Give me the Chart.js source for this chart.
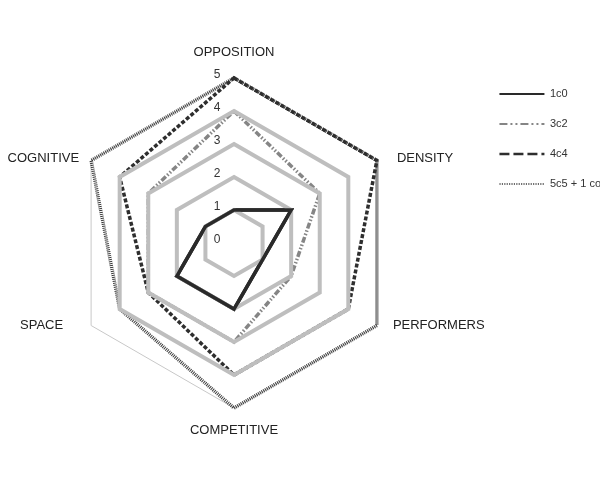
<!DOCTYPE html>
<html>
<head>
<meta charset="utf-8">
<script src="https://cdn.jsdelivr.net/npm/chart.js@4.4.1/dist/chart.umd.min.js"></script>
<style>
  html, body { margin: 0; padding: 0; background: #fff; overflow: hidden; }
  /* a little wider than the window, like the original whose legend runs off the edge */
  #wrap { width: 623px; height: 480px; position: relative; margin-left: -12px; }
</style>
</head>
<body>
<div id="wrap"><canvas id="radarChart"></canvas></div>
<script>
// Axes, clockwise from the top
const axes = ['OPPOSITION', 'DENSITY', 'PERFORMERS', 'COMPETITIVE', 'SPACE', 'COGNITIVE'];

// Series values (scale 0-5)
const s1c0 = [1, 2, 1, 2, 2, 1];
const s3c2 = [4, 3, 2, 3, 3, 3];
const s4c4 = [5, 5, 4, 4, 3, 4];
const s5c5 = [5, 5, 5, 5, 4, 5];

const seriesNames = ['1c0', '3c2', '4c4', '5c5 + 1 co'];
const tickValues = [0, 1, 2, 3, 4, 5];

Chart.defaults.font.family = '"Liberation Sans", Arial, Helvetica, sans-serif';
Chart.defaults.color = '#222';

const gridGrey = 'rgb(190,190,190)';

// gap between each vertex and its axis name (the original isn't quite even)
const labelGap = [26, 20, 16, 22, 28, 12];

// Draw the axis names and tick numbers, and put 1c0 back above the grid
const axisText = {
    id: 'axisText',
    afterDraw(chart) {
        const scale = chart.scales.r;
        const ctx = chart.ctx;

        chart.getDatasetMeta(0).controller.draw();

        ctx.save();
        ctx.textBaseline = 'middle';
        ctx.fillStyle = '#222';
        ctx.font = '13px "Liberation Sans", Arial, sans-serif';
        axes.forEach((name, i) => {
            const p = scale.getPointPositionForValue(i, scale.max);
            const dx = p.x - scale.xCenter;
            const gap = labelGap[i];
            let x = p.x;
            let y = p.y;
            if (Math.abs(dx) < 1) {
                ctx.textAlign = 'center';
                y += p.y < scale.yCenter ? -gap : gap;
            } else {
                ctx.textAlign = dx > 0 ? 'left' : 'right';
                x += dx > 0 ? gap : -gap;
                y += p.y < scale.yCenter ? -2 : -0.5;
            }
            ctx.fillText(name, x, y);
        });

        ctx.font = '12px "Liberation Sans", Arial, sans-serif';
        ctx.textAlign = 'center';
        ctx.fillStyle = '#333';
        tickValues.forEach(v => {
            const y = scale.yCenter - scale.getDistanceFromCenterForValue(v);
            ctx.fillText(String(v), scale.xCenter - 17, y - 3);
        });
        ctx.restore();
    }
};

const legendDash = [[], [8, 3, 2, 3, 2, 3], [10, 4], [1.2, 1.2]];
const legendWidth = [2, 2, 2.5, 1.5];

new Chart(document.getElementById('radarChart'), {
    type: 'radar',
    data: {
        labels: axes,
        datasets: [
            {
                label: seriesNames[0],
                data: s1c0,
                borderColor: '#2a2a2a',
                borderWidth: 3.5
            },
            {
                label: seriesNames[1],
                data: s3c2,
                borderColor: '#858585',
                borderWidth: 3.5,
                borderDash: [6, 2, 1.5, 2, 1.5, 2]
            },
            {
                label: seriesNames[2],
                data: s4c4,
                borderColor: '#2e2e2e',
                borderWidth: 3.5,
                borderDash: [4, 2]
            },
            {
                label: seriesNames[3],
                data: s5c5,
                borderColor: '#3c3c3c',
                borderWidth: 3.5,
                borderDash: [1, 1]
            }
        ].map(d => ({
            ...d,
            fill: false,
            backgroundColor: 'transparent',
            pointRadius: 0,
            pointHoverRadius: 0,
            tension: 0,
            borderJoinStyle: 'miter',
            borderCapStyle: 'butt'
        }))
    },
    options: {
        responsive: true,
        maintainAspectRatio: false,
        animation: false,
        layout: {
            padding: { left: 0, top: 69.5, right: 0, bottom: 72 }
        },
        plugins: {
            title: {
                display: true,
                text: '',
                font: { size: 1, lineHeight: 1 },
                padding: { top: 0, bottom: 7.5 }
            },
            tooltip: { enabled: false },
            legend: {
                position: 'right',
                align: 'start',
                labels: {
                    usePointStyle: true,
                    pointStyle: 'line',
                    pointStyleWidth: 45,
                    padding: 19,
                    color: '#333',
                    font: { size: 11 },
                    generateLabels(chart) {
                        const items = Chart.defaults.plugins.legend.labels.generateLabels(chart);
                        items.forEach((item, i) => {
                            item.lineDash = legendDash[i];
                            item.lineWidth = legendWidth[i];
                            item.pointStyle = 'line';
                        });
                        return items;
                    }
                }
            }
        },
        scales: {
            r: {
                min: 0,
                max: 5,
                ticks: { stepSize: 1, display: false },
                angleLines: { display: false },
                pointLabels: { display: false },
                grid: {
                    z: 1,
                    lineWidth: 4,
                    color: ctx => (ctx.tick && ctx.tick.value < 5) ? gridGrey : 'rgba(0,0,0,0)'
                }
            },
            r5: {
                type: 'radialLinear',
                min: 0,
                max: 5,
                ticks: { stepSize: 1, display: false },
                angleLines: { display: false },
                pointLabels: { display: false },
                grid: {
                    lineWidth: 1,
                    color: ctx => (ctx.tick && ctx.tick.value === 5) ? 'rgb(200,200,200)' : 'rgba(0,0,0,0)'
                }
            }
        }
    },
    plugins: [axisText]
});
</script>
</body>
</html>
